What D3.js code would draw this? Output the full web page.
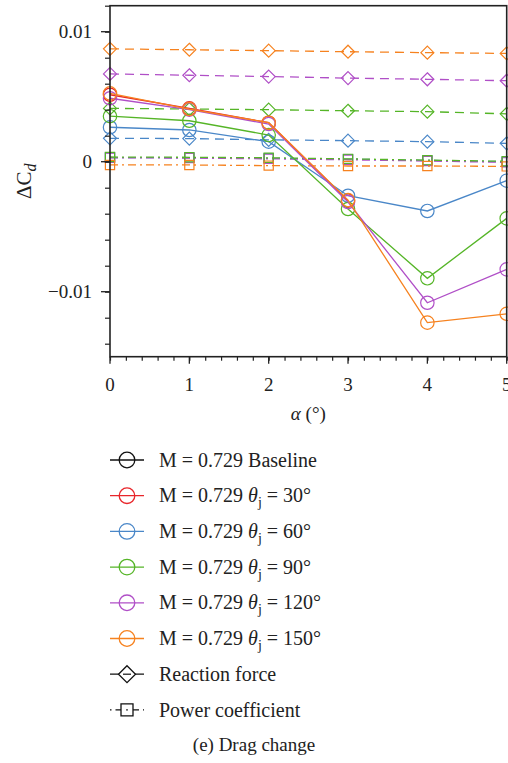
<!DOCTYPE html>
<html><head><meta charset="utf-8">
<script src="https://cdn.jsdelivr.net/npm/d3@7"></script>
<style>body{margin:0;background:#fff}svg{display:block}text{font-family:"Liberation Serif","DejaVu Serif",serif;fill:#222}</style>
</head><body><svg id="c" width="508" height="763" font-family="Liberation Serif, DejaVu Serif, serif"></svg>
<script>
const alpha = [0, 1, 2, 3, 4, 5];
const seriesNames = ["Baseline", "30", "60", "90", "120", "150"];
const seriesColors = ["#111111", "#e8262b", "#4a87c8", "#55b527", "#b04fc7", "#f6821f"];
// Drag change (solid lines, circles)
const circ30  = [0.00515, 0.00410, 0.00300, -0.00300];
const circ60  = [0.00265, 0.00244, 0.00154, -0.00262, -0.00379, -0.00146];
const circ90  = [0.00350, 0.00315, 0.00205, -0.00364, -0.00897, -0.00436];
const circ120 = [0.00488, 0.00400, 0.00290, -0.00310, -0.01085, -0.00828];
const circ150 = [0.00526, 0.00405, 0.00300, -0.00295, -0.01238, -0.01170];
// Reaction force (dashed lines, diamonds)
const diam60  = [0.00180, 0.00178, 0.00168, 0.00162, 0.00154, 0.00141];
const diam90  = [0.00410, 0.00405, 0.00400, 0.00392, 0.00385, 0.00368];
const diam120 = [0.00675, 0.00665, 0.00655, 0.00643, 0.00634, 0.00623];
const diam150 = [0.00868, 0.00861, 0.00854, 0.00846, 0.00839, 0.00833];
// Power coefficient (dash-dot lines, squares)
const sq60  = [0.00032, 0.00030, 0.00026, 0.00020, 0.00010, 0.00000];
const sq90  = [0.00036, 0.00034, 0.00030, 0.00022, 0.00012, 0.00003];
const sq120 = [0.00030, 0.00028, 0.00022, 0.00015, 0.00005, -0.00005];
const sq150 = [-0.00025, -0.00025, -0.00030, -0.00033, -0.00033, -0.00036];
const yTickLabels = [-0.01, 0, 0.01];
const xTickLabels = [0, 1, 2, 3, 4, 5];

const svg = d3.select("#c");
const L = 110, R = 506.7, T = 5.7, B = 356.7;
const x = d3.scaleLinear().domain([0, 5]).range([L, R]);
const y = d3.scaleLinear().domain([-0.015, 0.012]).range([B, T]);

const circleSeries = [
  {c: seriesColors[1], v: circ30}, {c: seriesColors[2], v: circ60},
  {c: seriesColors[3], v: circ90}, {c: seriesColors[4], v: circ120},
  {c: seriesColors[5], v: circ150}];
const diamSeries = [
  {c: seriesColors[2], v: diam60}, {c: seriesColors[3], v: diam90},
  {c: seriesColors[4], v: diam120}, {c: seriesColors[5], v: diam150}];
const sqSeries = [
  {c: seriesColors[2], v: sq60}, {c: seriesColors[4], v: sq120},
  {c: seriesColors[3], v: sq90}, {c: seriesColors[5], v: sq150}];

const line = d3.line().x((d, i) => x(alpha[i])).y(d => y(d));
const plot = svg.append("g");

const diamondPath = s => `M0,${-s}L${s},0L0,${s}L${-s},0Z`;
const squarePath = s => `M${-s},${-s}H${s}V${s}H${-s}Z`;

function drawSeries(list, dash, marker) {
  list.forEach(s => {
    plot.append("path").attr("d", line(s.v)).attr("fill", "none")
      .attr("stroke", s.c).attr("stroke-width", 1.3).attr("stroke-dasharray", dash);
    plot.selectAll(null).data(s.v).enter().append(marker.tag)
      .each(function(d, i) {
        const el = d3.select(this);
        if (marker.tag === "circle") el.attr("cx", x(alpha[i])).attr("cy", y(d)).attr("r", marker.r);
        else el.attr("transform", `translate(${x(alpha[i])},${y(d)})`).attr("d", marker.d);
      })
      .attr("fill", "none").attr("stroke", s.c).attr("stroke-width", 1.2);
  });
}
drawSeries(sqSeries, "8,4,2,4", {tag: "path", d: squarePath(4.6)});
drawSeries(diamSeries, "9,6", {tag: "path", d: diamondPath(6.5)});
drawSeries(circleSeries, null, {tag: "circle", r: 6.7});

// axes
const yAxis = d3.axisLeft(y).tickValues(d3.range(-0.014, 0.0121, 0.002)).tickSize(5).tickFormat("");
const gy = svg.append("g").attr("transform", `translate(${L},0)`).call(yAxis);
const xAxis = d3.axisBottom(x).tickValues(d3.range(0, 5.01, 0.2)).tickSize(4).tickFormat("");
const gx = svg.append("g").attr("transform", `translate(0,${B})`).call(xAxis);
[gx, gy].forEach(g => { g.select(".domain").remove(); g.selectAll("line").attr("stroke", "#222").attr("stroke-width", 1.2); });
// major ticks
svg.selectAll(null).data(yTickLabels).enter().append("line")
  .attr("x1", L - 9).attr("x2", L).attr("y1", d => y(d)).attr("y2", d => y(d)).attr("stroke", "#222").attr("stroke-width", 1.3);
svg.selectAll(null).data(yTickLabels).enter().append("text")
  .attr("x", L - 18).attr("y", d => y(d)).attr("dy", "0.33em").attr("text-anchor", "end")
  .attr("font-size", 19).text(d => d === 0 ? "0" : (d < 0 ? "\u2212" : "") + Math.abs(d));
svg.selectAll(null).data(xTickLabels).enter().append("line")
  .attr("x1", d => x(d)).attr("x2", d => x(d)).attr("y1", B).attr("y2", B + 7).attr("stroke", "#222").attr("stroke-width", 1.3);
svg.selectAll(null).data(xTickLabels).enter().append("text")
  .attr("x", d => x(d)).attr("y", B + 34).attr("text-anchor", "middle")
  .attr("font-size", 19).text(d => d);
// frame
svg.append("rect").attr("x", L).attr("y", T).attr("width", R - L).attr("height", B - T)
  .attr("fill", "none").attr("stroke", "#222").attr("stroke-width", 1.6);

// axis titles
const yl = svg.append("text").attr("transform", `translate(31,${(T + B) / 2}) rotate(-90)`)
  .attr("text-anchor", "middle").attr("font-size", 21);
yl.append("tspan").text("\u0394C");
yl.append("tspan").attr("font-style", "italic").attr("font-size", 16).attr("dy", 5).text("d");
const xl = svg.append("text").attr("x", (L + R) / 2).attr("y", 420).attr("text-anchor", "middle").attr("font-size", 19);
xl.append("tspan").attr("font-style", "italic").text("\u03b1");
xl.append("tspan").text(" (\u00b0)");

// legend
const leg = svg.append("g");
const rowsY = d3.range(8).map(i => 460 + i * 35.7);
const FS = 20;
seriesNames.forEach((n, i) => {
  const yy = rowsY[i], c = seriesColors[i];
  leg.append("line").attr("x1", 110).attr("x2", 144).attr("y1", yy).attr("y2", yy).attr("stroke", c).attr("stroke-width", 1.3);
  leg.append("circle").attr("cx", 127).attr("cy", yy).attr("r", 7.8).attr("fill", "none").attr("stroke", c).attr("stroke-width", 1.3);
  const t = leg.append("text").attr("x", 159).attr("y", yy).attr("dy", "0.33em").attr("font-size", FS);
  t.append("tspan").text("M = 0.729 ");
  if (i === 0) t.append("tspan").text("Baseline");
  else {
    t.append("tspan").attr("font-style", "italic").text("\u03b8");
    t.append("tspan").attr("font-size", 14).attr("dy", 5).text("j");
    t.append("tspan").attr("dy", -5).text(" = " + n + "\u00b0");
  }
});
{
  const yy = rowsY[6];
  leg.append("line").attr("x1", 110).attr("x2", 144).attr("y1", yy).attr("y2", yy).attr("stroke", "#111").attr("stroke-width", 1.3);
  leg.append("path").attr("transform", `translate(127,${yy})`).attr("d", diamondPath(8.5)).attr("fill", "#fff").attr("stroke", "#111").attr("stroke-width", 1.3);
  leg.append("line").attr("x1", 123).attr("x2", 131).attr("y1", yy).attr("y2", yy).attr("stroke", "#111").attr("stroke-width", 1.2);
  leg.append("text").attr("x", 159).attr("y", yy).attr("dy", "0.33em").attr("font-size", FS).text("Reaction force");
}
{
  const yy = rowsY[7];
  leg.append("line").attr("x1", 110).attr("x2", 144).attr("y1", yy).attr("y2", yy).attr("stroke", "#111").attr("stroke-width", 1.3).attr("stroke-dasharray", "1.5,4,7,4");
  leg.append("path").attr("transform", `translate(127,${yy})`).attr("d", squarePath(6)).attr("fill", "#fff").attr("stroke", "#111").attr("stroke-width", 1.3);
  leg.append("circle").attr("cx", 127).attr("cy", yy).attr("r", 0.8).attr("fill", "#111");
  leg.append("text").attr("x", 159).attr("y", yy).attr("dy", "0.33em").attr("font-size", FS).text("Power coefficient");
}
svg.append("text").attr("x", 254).attr("y", 751).attr("text-anchor", "middle").attr("font-size", 19).text("(e) Drag change");
</script></body></html>
